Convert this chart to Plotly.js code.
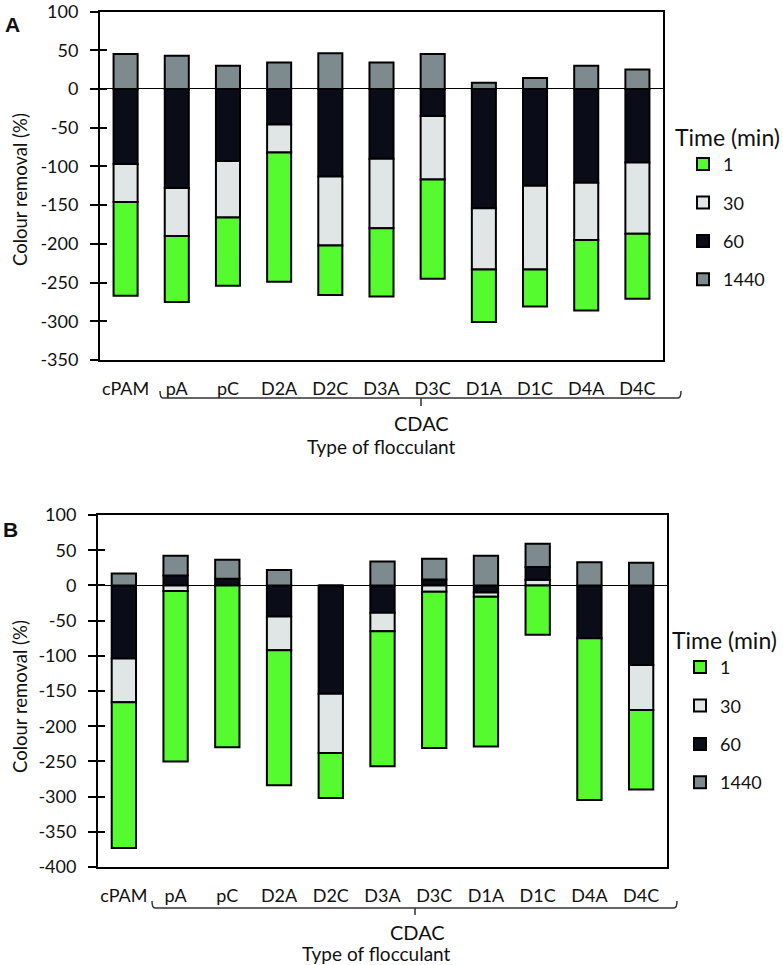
<!DOCTYPE html>
<html>
<head>
<meta charset="utf-8">
<script src="https://cdn.plot.ly/plotly-3.0.1.min.js"></script>
<style>html,body{margin:0;padding:0;background:#fff;}#chart{width:783px;height:965px;}</style>
</head>
<body>
<div id="chart"></div>
<script>
// ---- data (segment heights, %) ----
const categories = ['cPAM','pA','pC','D2A','D2C','D3A','D3C','D1A','D1C','D4A','D4C'];
const seriesNames = ['1','30','60','1440'];

// Panel A
const t1A    = [-121, -85, -88, -167, -64, -88, -128, -68, -48, -91, -84];
const t30A   = [-49, -62, -73, -36, -89, -90, -82, -79, -108, -74, -92];
const t60A   = [-97, -128, -93, -46, -113, -90, -35, -154, -125, -121, -95];
const t1440A = [45, 43, 30, 34, 46, 34, 45, 8, 14, 30, 25];

// Panel B
const t1B    = [-207, -242, -230, -192, -64, -192, -222, -213, -70, -230, -113];
const t30B   = [-62, -8, 0, -48, -84, -26, -9, -6, 8, 0, -64];
const t60B   = [-104, 14, 9.5, -44, -154, -39, 8.5, -10, 18, -75, -113];
const t1440B = [17, 28, 27, 22, 0, 34, 29.5, 42, 33, 33, 32];

const yTickVals = [100, 50, 0, -50, -100, -150, -200, -250, -300, -350, -400];

// ---- style ----
const colors = {'1':'#55fb2f','30':'#e0e5e6','60':'#0a0d18','1440':'#7e8b8e'};
const W = 783, H = 965;
const px = x => x / W, py = y => 1 - y / H;
const FONT = 'Lato, "Open Sans", sans-serif';

function barTrace(name, vals, xa, ya, legend, showlegend) {
  return {
    type: 'bar', name: name, x: categories, y: vals,
    xaxis: xa, yaxis: ya, legend: legend,
    legendgroup: legend + name, showlegend: showlegend,
    legendrank: seriesNames.indexOf(name) + 1,
    marker: {color: colors[name], line: {color: '#000', width: 2}},
    hoverinfo: 'x+y+name'
  };
}
function panelTraces(t1, t30, t60, t1440, xa, ya, legend) {
  const pos30 = t30.map(v => v > 0 ? v : null);
  const neg30 = t30.map(v => v < 0 ? v : null);
  return [
    barTrace('30', pos30, xa, ya, legend, false),
    barTrace('60', t60, xa, ya, legend, true),
    barTrace('30', neg30, xa, ya, legend, true),
    barTrace('1', t1, xa, ya, legend, true),
    barTrace('1440', t1440, xa, ya, legend, true)
  ];
}

const data = [
  ...panelTraces(t1A, t30A, t60A, t1440A, 'x', 'y', 'legend'),
  ...panelTraces(t1B, t30B, t60B, t1440B, 'x2', 'y2', 'legend2'),
  {type:'scatter', x:[], y:[], xaxis:'x', yaxis:'y3', showlegend:false, hoverinfo:'skip'},
  {type:'scatter', x:[], y:[], xaxis:'x2', yaxis:'y4', showlegend:false, hoverinfo:'skip'}
];

function xAxis(domain, anchor) {
  return {
    domain: domain, anchor: anchor, type: 'category',
    showline: true, mirror: true, linecolor: '#000', linewidth: 2,
    ticks: 'outside', ticklen: 0, tickcolor: 'rgba(0,0,0,0)',
    ticklabelstandoff: 11,
    tickfont: {family: FONT, size: 18, color: '#111'},
    showgrid: false, zeroline: false, fixedrange: true
  };
}
function yAxis(domain, anchor, range) {
  const tv = yTickVals.filter(v => v >= range[0] && v <= range[1]);
  return {
    domain: domain, anchor: anchor, range: range,
    tickmode: 'array', tickvals: tv, ticktext: tv.map(v => String(v)),
    ticks: 'outside', ticklen: 8, tickwidth: 2, tickcolor: '#000',
    ticklabelstandoff: 8, ticklabeloverflow: 'allow',
    showline: true, mirror: true, linecolor: '#000', linewidth: 2,
    zeroline: true, zerolinecolor: '#000', zerolinewidth: 1,
    showgrid: false, tickfont: {family: FONT, size: 18, color: '#111'},
    fixedrange: true
  };
}
function yInner(overlay, anchor, range) {
  return {
    overlaying: overlay, anchor: anchor, side: 'left', range: range,
    tickmode: 'array', tickvals: yTickVals.filter(v => v >= range[0] && v <= range[1]),
    ticks: 'inside', ticklen: 7, tickwidth: 2, tickcolor: '#000',
    showticklabels: false, showline: false, zeroline: false, showgrid: false,
    fixedrange: true
  };
}
function legendCfg(x, y) {
  return {
    x: x, y: y, xanchor: 'left', yanchor: 'top',
    title: {text: 'Time (min)', font: {family: FONT, size: 23, color: '#111'}},
    font: {family: FONT, size: 18, color: '#111'},
    traceorder: 'grouped', tracegroupgap: 12, indentation: 10,
    bgcolor: 'rgba(0,0,0,0)', borderwidth: 0
  };
}
function brace(x0, x1, xc, yLine, yTop, yBot) {
  return {
    type: 'path', xref: 'paper', yref: 'paper',
    path: `M${px(x0)},${py(yTop)} Q${px(x0)},${py(yLine)} ${px(x0+3)},${py(yLine)} L${px(x1-3)},${py(yLine)} Q${px(x1)},${py(yLine)} ${px(x1)},${py(yTop)} M${px(xc)},${py(yLine)} L${px(xc)},${py(yBot)}`,
    line: {color: '#333', width: 1.5}
  };
}
function ann(text, x, y, size, extra) {
  return Object.assign({
    text: text, xref: 'paper', yref: 'paper', x: px(x), y: py(y),
    xanchor: 'center', yanchor: 'middle', showarrow: false,
    font: {family: FONT, size: size, color: '#111'}
  }, extra || {});
}

const layout = {
  width: W, height: H,
  margin: {l: 0, r: 0, t: 0, b: 0},
  paper_bgcolor: '#fff', plot_bgcolor: '#fff',
  barmode: 'relative', bargap: 0.53,
  showlegend: true,
  xaxis:  xAxis([px(100), px(663)], 'y'),
  yaxis:  yAxis([py(360), py(11.5)], 'x', [-350, 100]),
  yaxis3: yInner('y', 'x', [-350, 100]),
  xaxis2: xAxis([px(98), px(667)], 'y2'),
  yaxis2: yAxis([py(867), py(515)], 'x2', [-400, 100]),
  yaxis4: yInner('y2', 'x2', [-400, 100]),
  legend:  legendCfg(px(673), py(116)),
  legend2: legendCfg(px(670), py(619)),
  shapes: [
    brace(160, 681, 421, 398, 391, 406),
    brace(152, 677, 415, 908, 901, 915)
  ],
  annotations: [
    ann('<b>A</b>', 12, 25, 21, {font: {family: '"Liberation Sans", Arial, sans-serif', size: 21, color: '#111'}}),
    ann('<b>B</b>', 10, 529, 21, {font: {family: '"Liberation Sans", Arial, sans-serif', size: 21, color: '#111'}}),
    ann('Colour removal (%)', 20, 190, 18.5, {textangle: -90}),
    ann('Colour removal (%)', 20, 697, 18.5, {textangle: -90}),
    ann('CDAC', 422, 423, 20),
    ann('Type of flocculant', 381, 446, 19),
    ann('CDAC', 417, 932, 20),
    ann('Type of flocculant', 376, 953, 19)
  ]
};

Plotly.newPlot('chart', data, layout, {displayModeBar: false, staticPlot: true});
</script>
</body>
</html>
